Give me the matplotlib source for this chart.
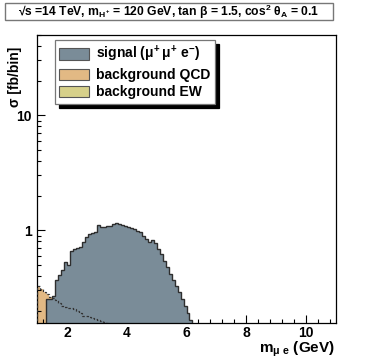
import numpy as np
import matplotlib
matplotlib.use("Agg")
import matplotlib.pyplot as plt
from matplotlib.patches import Patch, Rectangle
from matplotlib.ticker import MultipleLocator, LogLocator, FuncFormatter, NullFormatter

plt.rcParams['font.family'] = ['Liberation Sans', 'DejaVu Sans']
plt.rcParams['font.weight'] = 'bold'
plt.rcParams['mathtext.fontset'] = 'custom'
plt.rcParams['mathtext.rm'] = 'Liberation Sans:bold'
plt.rcParams['mathtext.it'] = 'Liberation Sans:bold'
plt.rcParams['mathtext.bf'] = 'Liberation Sans:bold'

# signal histogram, 0.1 GeV bins starting at 1.3 GeV
sig_start = 1.3
sig_vals = [0.25, 0.25, 0.27, 0.37, 0.41, 0.45, 0.53, 0.50, 0.66, 0.69,
            0.70, 0.72, 0.79, 0.87, 0.92, 0.95, 0.97, 1.12, 1.07, 1.06,
            1.10, 1.10, 1.13, 1.15, 1.14, 1.12, 1.10, 1.07, 1.05, 1.02,
            0.99, 0.96, 0.90, 0.84, 0.79, 0.82, 0.77, 0.69, 0.62, 0.54,
            0.48, 0.42, 0.37, 0.33, 0.29, 0.25, 0.22, 0.19, 0.165]

# QCD background, 0.1 GeV bins starting at 1.0 GeV
qcd_start = 1.0
qcd_vals = [0.33, 0.31, 0.29, 0.28, 0.265, 0.255, 0.245, 0.235, 0.22, 0.215,
            0.21, 0.21, 0.205, 0.20, 0.19, 0.18, 0.178, 0.175, 0.172, 0.17,
            0.166, 0.162, 0.158, 0.155, 0.15]

bw = 0.1
sig_edges = sig_start + bw * np.arange(len(sig_vals) + 1)
qcd_edges = qcd_start + bw * np.arange(len(qcd_vals) + 1)

c_sig = '#7a8c98'
c_qcd = '#e2b984'
c_ew = '#d6d08a'

fig = plt.figure(figsize=(3.74, 3.59), dpi=100)
ax = fig.add_axes([37/374, 1-323/359, 299/374, 288/359])

base = 1e-3
ax.stairs(qcd_vals, qcd_edges, baseline=base, fill=True, color=c_qcd, zorder=1)
ax.stairs(sig_vals, sig_edges, baseline=base, fill=True, color=c_sig, zorder=2)
ax.stairs(sig_vals, sig_edges, baseline=base, fill=False, color='#2e2e2e', lw=1.0, zorder=3)
ax.stairs(qcd_vals, qcd_edges, baseline=base, fill=False, color='#333333', lw=0.9,
          ls=(0, (2, 1.5)), zorder=4)

ax.set_yscale('log')
ax.set_xlim(1, 11)
ax.set_ylim(0.156, 50)

ax.xaxis.set_major_locator(MultipleLocator(2))
ax.xaxis.set_minor_locator(MultipleLocator(0.4))
ax.yaxis.set_major_locator(LogLocator(base=10))
ax.yaxis.set_minor_locator(LogLocator(base=10, subs=np.arange(2, 10)))
ax.yaxis.set_major_formatter(FuncFormatter(lambda v, p: '%g' % v))
ax.yaxis.set_minor_formatter(NullFormatter())
ax.tick_params(which='both', direction='in', top=False, right=False, labelsize=10)
ax.tick_params(which='major', length=6, width=0.8)
ax.tick_params(which='minor', length=3, width=0.8)
ax.tick_params(axis='y', pad=4)
ax.tick_params(axis='x', pad=2)
for lab in ax.get_xticklabels() + ax.get_yticklabels():
    lab.set_fontweight('bold')
for s in ax.spines.values():
    s.set_linewidth(0.9)

handles = [Patch(facecolor=c_sig, edgecolor='#555555', lw=0.8),
           Patch(facecolor=c_qcd, edgecolor='#555555', lw=0.8),
           Patch(facecolor=c_ew, edgecolor='#555555', lw=0.8)]
labels = [r'signal ($\mu^{+}\,\mu^{+}$ e$^{-}$)', 'background QCD', 'background EW']
leg = ax.legend(handles, labels, loc='upper left',
                bbox_to_anchor=(55/374, 1-40/359), bbox_transform=fig.transFigure,
                borderaxespad=0, fontsize=10, handlelength=2.15, handleheight=0.86,
                labelspacing=0.25, handletextpad=0.5, borderpad=0.3,
                fancybox=False, framealpha=1, edgecolor='#777777',
                shadow={'ox': 3, 'oy': -3, 'color': 'black', 'alpha': 1})
leg.get_frame().set_linewidth(0.9)

# header box
fig.patches.append(Rectangle((5/374, 1-20/359), 328/374, 17/359, transform=fig.transFigure,
                             facecolor='white', edgecolor='#777777', lw=1.0))
fig.text(169/374, 1-11.5/359,
         r'√s =14 TeV, m$_{H^{+}}$ = 120 GeV, tan β = 1.5, cos$^{2}$ θ$_{A}$ = 0.1',
         ha='center', va='center', fontsize=8.7, fontweight='bold')

fig.text(15/374, 1-47/359, 'σ [fb/bin]', rotation=90, ha='center', va='top',
         fontsize=10, fontweight='bold')
fig.text(335/374, 1-349/359, r'm$_{\mu\ e}$ (GeV)', ha='right', va='center',
         fontsize=11, fontweight='bold')

fig.savefig('out.png', dpi=100)
